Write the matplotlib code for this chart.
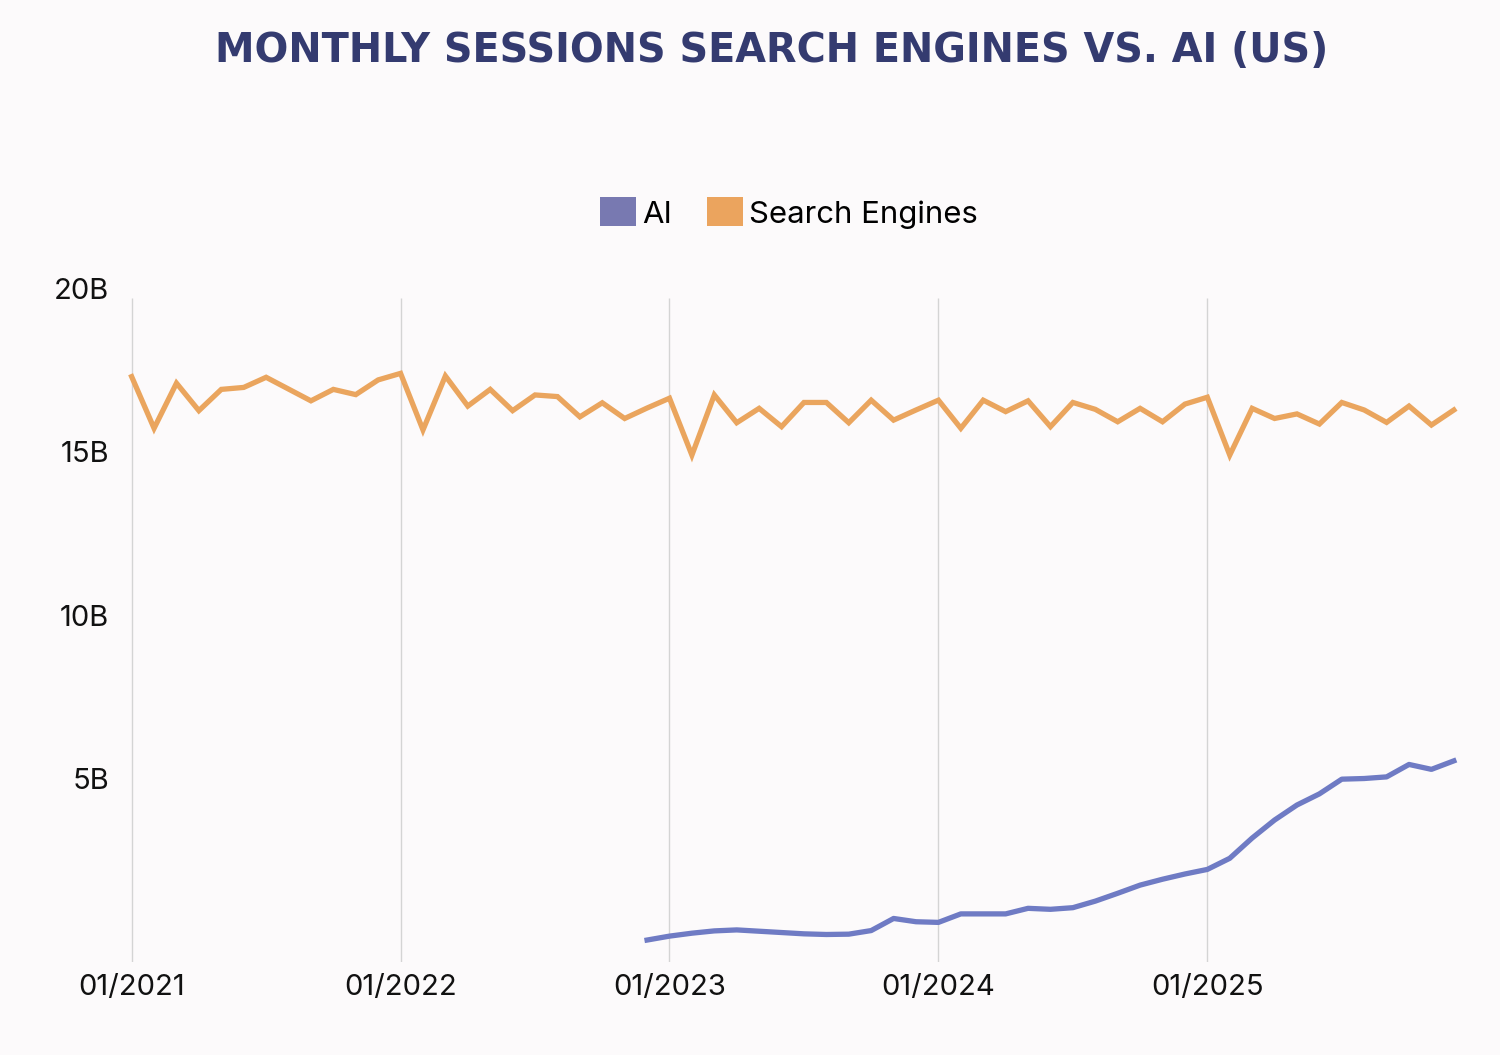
import numpy as np
import matplotlib.pyplot as plt
from matplotlib.patches import Patch

# monthly sessions (billions), 01/2021 .. 12/2025
search = [17.29, 15.71, 17.09, 16.25, 16.90, 16.96, 17.27, 16.91, 16.55, 16.90, 16.74, 17.19,
          17.39, 15.66, 17.31, 16.39, 16.90, 16.25, 16.73, 16.68, 16.06, 16.49, 16.01, 16.33,
          16.63, 14.89, 16.73, 15.88, 16.32, 15.76, 16.50, 16.50, 15.88, 16.57, 15.96, 16.27,
          16.57, 15.71, 16.57, 16.22, 16.55, 15.76, 16.50, 16.29, 15.91, 16.32, 15.91, 16.45,
          16.66, 14.89, 16.32, 16.01, 16.15, 15.84, 16.50, 16.27, 15.89, 16.39, 15.81, 16.27]

# AI sessions start in 12/2022
ai_start = 23
ai = [0.06,
      0.18, 0.27, 0.34, 0.37, 0.33, 0.29, 0.25, 0.23, 0.24, 0.35, 0.72, 0.62,
      0.60, 0.86, 0.86, 0.86, 1.03, 1.00, 1.05, 1.25, 1.49, 1.74, 1.92, 2.08,
      2.22, 2.56, 3.18, 3.73, 4.19, 4.53, 4.98, 5.00, 5.05, 5.43, 5.28, 5.54]

year_ticks = [0, 12, 24, 36, 48]
year_labels = ["01/2021", "01/2022", "01/2023", "01/2024", "01/2025"]
y_ticks = [5, 10, 15, 20]
y_labels = ["5B", "10B", "15B", "20B"]

BG = "#FCFAFB"
ORANGE = "#EAA55E"
BLUE = "#6F7BC4"

plt.rcParams['font.family'] = ['Inter', 'DejaVu Sans']

fig = plt.figure(figsize=(15, 10.55), dpi=100, facecolor=BG)
ax = fig.add_axes([0.0803, 0.0885, 0.8964, 0.6385])
ax.set_facecolor(BG)

x_search = np.arange(len(search))
x_ai = np.arange(ai_start, ai_start + len(ai))

# vertical grid lines
ax.vlines(year_ticks, -0.6, 19.7, color="#D4D4D4", lw=1.0, zorder=1)

ax.plot(x_search, search, color=ORANGE, lw=3.8, solid_joinstyle='miter', zorder=3)
ax.plot(x_ai, ai, color=BLUE, lw=3.8, solid_joinstyle='round', zorder=3)

ax.set_xlim(-0.5, 59.5)
ax.set_ylim(-0.6, 20)
ax.set_xticks(year_ticks)
ax.set_xticklabels(year_labels)
ax.set_yticks(y_ticks)
ax.set_yticklabels(y_labels)
ax.tick_params(length=0, labelsize=21, colors="#111111")
ax.tick_params(axis='x', pad=9)
ax.tick_params(axis='y', pad=8)
for s in ax.spines.values():
    s.set_visible(False)

fig.text(772 / 1500, 1 - 51 / 1055, "MONTHLY SESSIONS SEARCH ENGINES VS. AI (US)",
         ha='center', va='center', fontsize=28.6, fontweight='bold', color="#343B70",
         family=['DejaVu Sans'])

handles = [Patch(facecolor="#7879B1", edgecolor='none', label="AI"),
           Patch(facecolor="#EBA45E", edgecolor='none', label="Search Engines")]
fig.legend(handles=handles, loc='center', bbox_to_anchor=(789 / 1500, 1 - 213 / 1055),
           ncol=2, frameon=False, fontsize=22.4, handlelength=1.13, handleheight=1.06,
           handletextpad=0.2, columnspacing=1.15)

fig.savefig("out.png", dpi=100, facecolor=BG)
